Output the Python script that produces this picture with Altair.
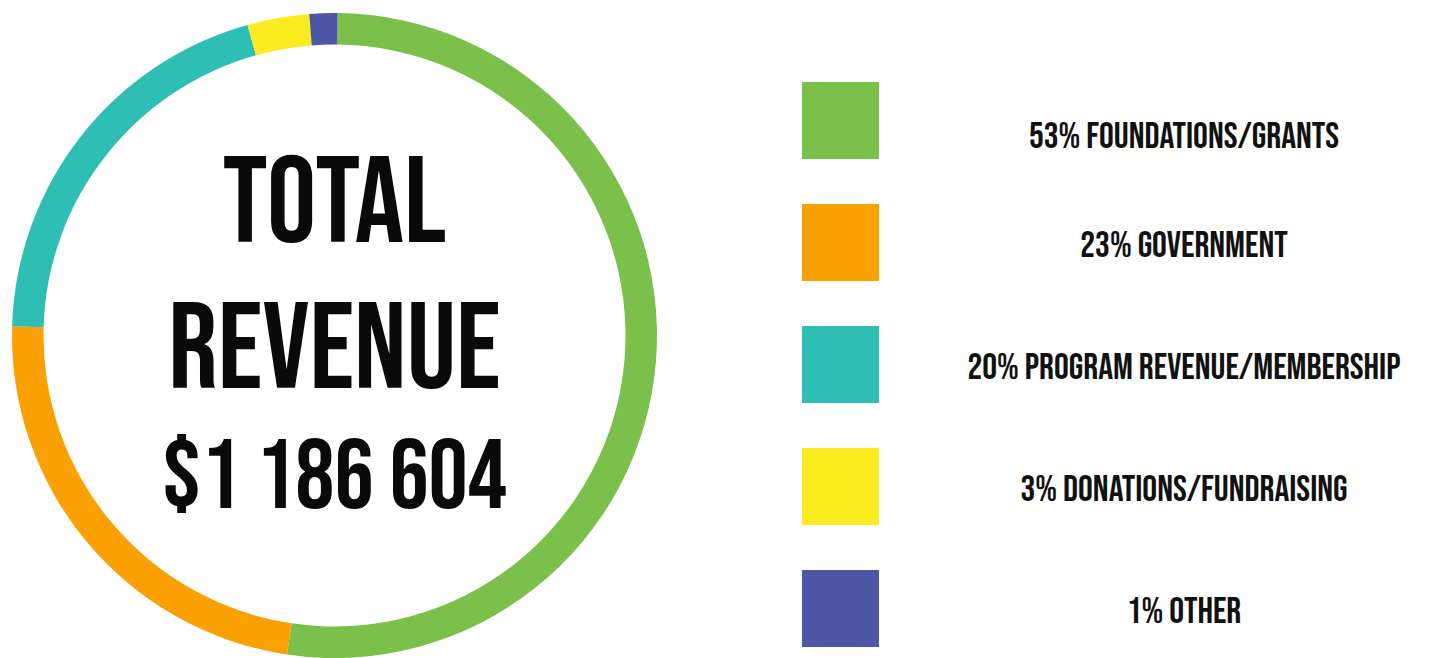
import math
import altair as alt
import pandas as pd

categories = ["FOUNDATIONS/GRANTS", "GOVERNMENT", "PROGRAM REVENUE/MEMBERSHIP",
              "DONATIONS/FUNDRAISING", "OTHER"]
pct_labels = [53, 23, 20, 3, 1]
# arc shares
shares = [52.2, 23.1, 20.2, 3.1, 1.4]
colors = ["#7AC04A", "#FAA000", "#2FBEB4", "#FBEC21", "#4E56A6"]
center_lines = ["TOTAL", "REVENUE", "$1 186 604"]

df = pd.DataFrame({
    "idx": list(range(len(categories))),
    "category": categories,
    "share": shares,
    "label": [f"{p}% {c}" for p, c in zip(pct_labels, categories)],
})

color_scale = alt.Scale(domain=categories, range=colors)
FONT = "Bebas Neue, Oswald, Roboto Condensed, Roboto, sans-serif"

cx, cy = 326.5, 327.5
offset = math.radians(0.55)

ring = alt.Chart(df).mark_arc(outerRadius=322.5, innerRadius=291, stroke=None).encode(
    theta=alt.Theta("share:Q", stack=True,
                    scale=alt.Scale(range=[offset, offset + 2 * math.pi])),
    color=alt.Color("category:N", scale=color_scale, legend=None),
    order=alt.Order("idx:Q"),
    x=alt.value(cx), y=alt.value(cy),
)

yscale = alt.Scale(domain=categories, range=[112.5, 600.5], padding=0)

squares = alt.Chart(df).mark_square(size=77 * 77, opacity=1, filled=True).encode(
    x=alt.value(832.5),
    y=alt.Y("category:N", scale=yscale, axis=None, sort=categories),
    color=alt.Color("category:N", scale=color_scale, legend=None),
)

label_style = dict(font=FONT, fontSize=37, fontWeight="normal", align="center",
                   baseline="middle", color="#111111")

labels_first = alt.Chart(df).transform_filter(alt.datum.idx == 0).mark_text(
    dy=16, **label_style
).encode(
    x=alt.value(1176),
    y=alt.Y("category:N", scale=yscale, axis=None, sort=categories),
    text="label:N",
)
labels_rest = alt.Chart(df).transform_filter(alt.datum.idx > 0).mark_text(
    dy=3, **label_style
).encode(
    x=alt.value(1176),
    y=alt.Y("category:N", scale=yscale, axis=None, sort=categories),
    text="label:N",
)

center_df = pd.DataFrame({"line": center_lines})
ys = [234, 380, 500]
sizes = [123, 123, 98]
center_layers = []
for line, yy, fs in zip(center_lines, ys, sizes):
    center_layers.append(
        alt.Chart(center_df[center_df["line"] == line]).mark_text(
            font=FONT, fontSize=fs, fontWeight="normal", align="center",
            baseline="alphabetic", color="#0a0a0a",
        ).encode(x=alt.value(cx), y=alt.value(yy), text="line:N")
    )

chart = alt.layer(ring, squares, labels_first, labels_rest, *center_layers).properties(
    width=1430, height=650,
    autosize=alt.AutoSizeParams(type="fit", contains="padding"),
    padding=0,
).configure_view(stroke=None).resolve_scale(y="shared")

chart.save("out.html", embed_options={"renderer": "svg", "actions": False})
